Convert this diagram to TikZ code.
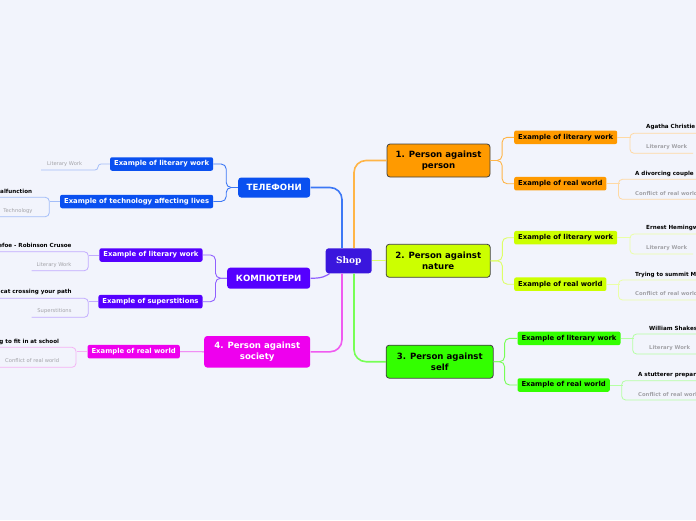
\documentclass[tikz,border=0pt]{standalone}
\usepackage{fontspec}
\setmainfont{DejaVu Sans}
\newfontfamily\shopfont{DejaVu Serif}
\usepackage{tikz}
\usetikzlibrary{positioning,calc}
\usepackage{xcolor}
\definecolor{bgcol}{HTML}{F2F4FC}
\definecolor{shopcol}{HTML}{3A16DD}
\definecolor{orangecol}{HTML}{FF9A00}
\definecolor{orangeline}{HTML}{FFB547}
\definecolor{orangeleaf}{HTML}{FFD9A3}
\definecolor{yellowcol}{HTML}{CCFF00}
\definecolor{yellowline}{HTML}{DDFF66}
\definecolor{yellowleaf}{HTML}{EAFFA6}
\definecolor{greencol}{HTML}{33FF00}
\definecolor{greenline}{HTML}{77FF55}
\definecolor{greenleaf}{HTML}{B5FFA3}
\definecolor{magcol}{HTML}{EE00EE}
\definecolor{magline}{HTML}{F05AF0}
\definecolor{magleaf}{HTML}{F4B3F4}
\definecolor{bluecol}{HTML}{0A50F0}
\definecolor{blueline}{HTML}{3D78F5}
\definecolor{blueleaf}{HTML}{A3BDF8}
\definecolor{violetcol}{HTML}{5500FF}
\definecolor{violetline}{HTML}{9060FF}
\definecolor{violetleaf}{HTML}{C2ABFF}
\definecolor{notegray}{HTML}{A3A3A8}

\begin{document}
\begin{tikzpicture}[x=1pt, y=-1pt,
    shopbox/.style={rectangle, rounded corners=3pt, fill=shopcol, text=white,
        minimum width=46pt, minimum height=25pt, inner sep=0pt,
        font=\shopfont\fontsize{9}{11}\selectfont\bfseries},
    topic/.style={rectangle, rounded corners=3pt, draw=black!75, line width=0.8pt,
        inner sep=0pt, align=center, font=\fontsize{8.6}{10.5}\selectfont\bfseries},
    ltopic/.style={topic, draw=none, text=white},
    sub/.style={rectangle, rounded corners=2pt, minimum height=13.5pt, inner ysep=0pt,
        inner xsep=4pt, font=\fontsize{6.85}{8}\selectfont\bfseries},
    lsub/.style={sub, text=white},
    mainline/.style={line width=1.6pt, rounded corners=12pt},
    subline/.style={line width=0.9pt, rounded corners=5pt},
    leafline/.style={line width=0.8pt, rounded corners=4pt},
    leaftitle/.style={inner sep=0pt, font=\fontsize{5.6}{6.5}\selectfont\bfseries},
    rnote/.style={inner sep=0pt, text=notegray, font=\fontsize{5.3}{6}\selectfont\bfseries},
    lnote/.style={inner sep=0pt, text=notegray, font=\fontsize{5.2}{6}\selectfont}
]
    \clip (0,0) rectangle (696,520);
    \fill[bgcol] (0,0) rectangle (696,520);

    % Centre and main topics
    \node[shopbox] (shop) at (348.7,260.8) {Shop};
    \node[topic, fill=orangecol, minimum width=103pt, minimum height=33pt] (pp) at (438.5,160.5) {1. Person against\\person};
    \node[topic, fill=yellowcol, minimum width=104pt, minimum height=33pt] (pn) at (438.2,260.8) {2. Person against\\nature};
    \node[topic, fill=greencol, minimum width=107pt, minimum height=33pt] (ps) at (439.7,361.7) {3. Person against\\self};
    \node[ltopic, fill=magcol, minimum width=106pt, minimum height=31.5pt] (pso) at (257.2,351.8) {4. Person against\\society};
    \node[ltopic, fill=bluecol, minimum width=72pt, minimum height=20pt] (tel) at (274.2,187.5) {ТЕЛЕФОНИ};
    \node[ltopic, fill=violetcol, minimum width=83pt, minimum height=21pt] (comp) at (268.7,278.2) {КОМПЮТЕРИ};

    \draw[mainline, orangeline] ([xshift=5.3pt]shop.north) |- (pp.west);
    \draw[line width=0.9pt, yellowline] (shop.east) -- (pn.west);
    \draw[mainline, greenline] ([xshift=5.3pt]shop.south) |- (ps.west);
    \draw[mainline, magline] ([xshift=-6.7pt]shop.south) |- (pso.east);
    \draw[mainline, blueline] (tel.east) -| ([xshift=-6.7pt]shop.north);
    \draw[line width=1.2pt, violetline] (comp.east) .. controls (322,278.5) and (326,276) .. ([xshift=-19pt]shop.south);

    % 1. Person against person
    \node[sub, fill=orangecol, anchor=west] (olit) at (514,137.3) {Example of literary work};
    \node[sub, fill=orangecol, anchor=west] (oreal) at (514,183.7) {Example of real world};
    \draw[subline, orangeline] (pp.east) -- ++(11.7,0) |- (olit.west);
    \draw[subline, orangeline] (pp.east) -- ++(11.7,0) |- (oreal.west);
    \node[leaftitle, anchor=west] (olitt) at (646,127.3) {Agatha Christie -};
    \node[rnote, anchor=west] (olitn) at (646,147) {Literary Work};
    \draw[leafline, orangeleaf] (olit.east) -- (631,137.3);
    \draw[leafline, orangeleaf] (700,133.3) -- (630,133.3) -- (630,153.3) -- (693,153.3);
    \node[leaftitle, anchor=west] (orealt) at (635,174) {A divorcing couple};
    \node[rnote, anchor=west] (orealn) at (635,194) {Conflict of real world};
    \draw[leafline, orangeleaf] (oreal.east) -- (619.5,183.7);
    \draw[leafline, orangeleaf] (700,179.3) -- (618.5,179.3) -- (618.5,199.3) -- (700,199.3);

    % 2. Person against nature
    \node[sub, fill=yellowcol, anchor=west] (ylit) at (514,237.7) {Example of literary work};
    \node[sub, fill=yellowcol, anchor=west] (yreal) at (514,284.2) {Example of real world};
    \draw[subline, yellowline] (pn.east) -- ++(11.7,0) |- (ylit.west);
    \draw[subline, yellowline] (pn.east) -- ++(11.7,0) |- (yreal.west);
    \node[leaftitle, anchor=west] (ylitt) at (646,227.7) {Ernest Hemingway};
    \node[rnote, anchor=west] (ylitn) at (646,248) {Literary Work};
    \draw[leafline, yellowleaf] (ylit.east) -- (631,237.7);
    \draw[leafline, yellowleaf] (700,234) -- (630,234) -- (630,254) -- (693,254);
    \node[leaftitle, anchor=west] (yrealt) at (635,275) {Trying to summit Mount};
    \node[rnote, anchor=west] (yrealn) at (635,294) {Conflict of real world};
    \draw[leafline, yellowleaf] (yreal.east) -- (619.5,284.2);
    \draw[leafline, yellowleaf] (700,280) -- (618.5,280) -- (618.5,300) -- (700,300);

    % 3. Person against self
    \node[sub, fill=greencol, anchor=west] (glit) at (517.3,338.3) {Example of literary work};
    \node[sub, fill=greencol, anchor=west] (greal) at (517.3,385) {Example of real world};
    \draw[subline, greenline] (ps.east) -- ++(11,0) |- (glit.west);
    \draw[subline, greenline] (ps.east) -- ++(11,0) |- (greal.west);
    \node[leaftitle, anchor=west] (glitt) at (649,329) {William Shakespeare};
    \node[rnote, anchor=west] (glitn) at (649,348) {Literary Work};
    \draw[leafline, greenleaf] (glit.east) -- (633.7,338.3);
    \draw[leafline, greenleaf] (700,334) -- (632.7,334) -- (632.7,354) -- (696,354);
    \node[leaftitle, anchor=west] (grealt) at (638,374.7) {A stutterer preparing};
    \node[rnote, anchor=west] (grealn) at (638,394.7) {Conflict of real world};
    \draw[leafline, greenleaf] (greal.east) -- (622.7,385);
    \draw[leafline, greenleaf] (700,380.7) -- (621.7,380.7) -- (621.7,400) -- (700,400);

    % ТЕЛЕФОНИ
    \node[lsub, fill=bluecol, anchor=east] (blit) at (213.3,164) {Example of literary work};
    \node[lsub, fill=bluecol, anchor=east] (btech) at (213.3,201.5) {Example of technology affecting lives};
    \draw[subline, blueline] (tel.west) -- ++(-11.6,0) |- (blit.east);
    \draw[subline, blueline] (tel.west) -- ++(-11.6,0) |- (btech.east);
    \node[lnote, anchor=east] (blitn) at (82.3,164) {Literary Work};
    \draw[leafline, blueleaf, rounded corners=3pt] (blit.west) -| (98,170) -- (41,170);
    \node[leaftitle, anchor=east] (btecht) at (32.3,191) {malfunction};
    \node[lnote, anchor=east] (btechn) at (32.7,211) {Technology};
    \draw[leafline, blueleaf] (btech.west) -- (50.3,201.5);
    \draw[leafline, blueleaf] (-5,197.3) -- (49.3,197.3) -- (49.3,216.7) -- (-5,216.7);

    % КОМПЮТЕРИ
    \node[lsub, fill=violetcol, anchor=east] (vlit) at (202.7,255) {Example of literary work};
    \node[lsub, fill=violetcol, anchor=east] (vsup) at (202.7,301.7) {Example of superstitions};
    \draw[subline, violetline] (comp.west) -- ++(-11.3,0) |- (vlit.east);
    \draw[subline, violetline] (comp.west) -- ++(-11.3,0) |- (vsup.east);
    \node[leaftitle, anchor=east] (vlitt) at (71.7,245) {Defoe - Robinson Crusoe};
    \node[lnote, anchor=east] (vlitn) at (71.7,264.7) {Literary Work};
    \draw[leafline, violetleaf] (vlit.west) -- (89.3,255);
    \draw[leafline, violetleaf] (-5,251.7) -- (88.3,251.7) -- (88.3,270.7) -- (31.7,270.7);
    \node[leaftitle, anchor=east] (vsupt) at (71.7,292) {black cat crossing your path};
    \node[lnote, anchor=east] (vsupn) at (71.7,311) {Superstitions};
    \draw[leafline, violetleaf] (vsup.west) -- (89.3,301.7);
    \draw[leafline, violetleaf] (-5,298.3) -- (88.3,298.3) -- (88.3,317.3) -- (31.7,317.3);

    % 4. Person against society
    \node[lsub, fill=magcol, anchor=east] (mreal) at (180,351.7) {Example of real world};
    \draw[subline, magline] (pso.west) -- (mreal.east);
    \node[leaftitle, anchor=east] (mrealt) at (59.3,342.3) {trying to fit in at school};
    \node[lnote, anchor=east] (mrealn) at (59.3,361) {Conflict of real world};
    \draw[leafline, magleaf] (mreal.west) -- (77,351.7);
    \draw[leafline, magleaf] (-5,347.3) -- (76,347.3) -- (76,367.3) -- (-5,367.3);
\end{tikzpicture}
\end{document}
